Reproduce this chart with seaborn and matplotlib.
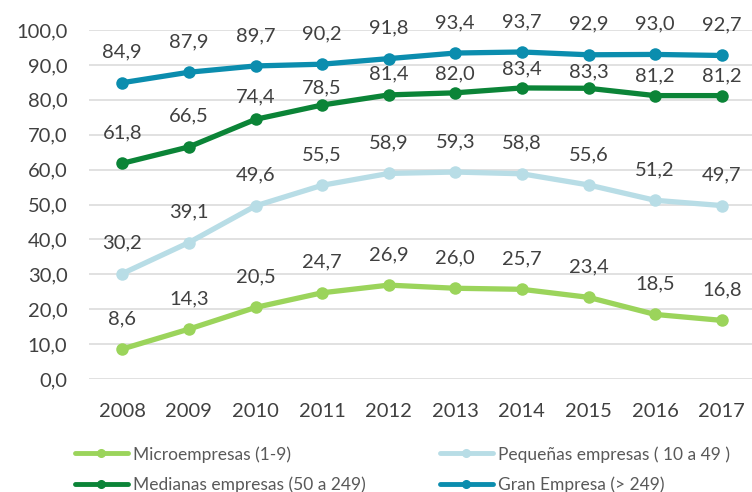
import matplotlib
matplotlib.use("Agg")
import matplotlib.pyplot as plt
import seaborn as sns
import pandas as pd
from matplotlib.lines import Line2D

years = [2008, 2009, 2010, 2011, 2012, 2013, 2014, 2015, 2016, 2017]
series_names = ["Microempresas (1-9)", "Medianas empresas (50 a 249)",
                "Pequeñas empresas ( 10 a 49 )", "Gran Empresa (> 249)"]
micro = [8.6, 14.3, 20.5, 24.7, 26.9, 26.0, 25.7, 23.4, 18.5, 16.8]
pequenas = [30.2, 39.1, 49.6, 55.5, 58.9, 59.3, 58.8, 55.6, 51.2, 49.7]
medianas = [61.8, 66.5, 74.4, 78.5, 81.4, 82.0, 83.4, 83.3, 81.2, 81.2]
gran = [84.9, 87.9, 89.7, 90.2, 91.8, 93.4, 93.7, 92.9, 93.0, 92.7]
yticks = [0, 10, 20, 30, 40, 50, 60, 70, 80, 90, 100]

colors = {
    "Microempresas (1-9)": "#9BD45B",
    "Pequeñas empresas ( 10 a 49 )": "#B8DDE6",
    "Medianas empresas (50 a 249)": "#0B8437",
    "Gran Empresa (> 249)": "#0B8DAE",
}
values = {
    "Microempresas (1-9)": micro,
    "Pequeñas empresas ( 10 a 49 )": pequenas,
    "Medianas empresas (50 a 249)": medianas,
    "Gran Empresa (> 249)": gran,
}
# label offsets (points above marker)
label_offsets = {
    "Microempresas (1-9)": [22] * 10,
    "Pequeñas empresas ( 10 a 49 )": [22] * 10,
    "Medianas empresas (50 a 249)": [22, 22, 16, 12, 15, 14, 14, 12, 14, 14],
    "Gran Empresa (> 249)": [22] * 10,
}

rows = []
for name in series_names:
    for i, v in enumerate(values[name]):
        rows.append({"x": i, "value": v, "serie": name})
df = pd.DataFrame(rows)

sns.set_style("white")
plt.rcParams["font.family"] = ["Lato", "DejaVu Sans"]
TXT = "#404040"

fig = plt.figure(figsize=(7.52, 4.92), dpi=100)
ax = fig.add_axes([89 / 752, 1 - 379 / 492, 666 / 752, 349 / 492])

draw_order = ["Microempresas (1-9)", "Pequeñas empresas ( 10 a 49 )",
              "Medianas empresas (50 a 249)", "Gran Empresa (> 249)"]
sns.lineplot(data=df, x="x", y="value", hue="serie", hue_order=draw_order,
             palette=colors, marker="o", markersize=9, markeredgewidth=0,
             linewidth=3.8, ax=ax, legend=False, zorder=3)

for name in draw_order:
    for i, v in enumerate(values[name]):
        ax.annotate(f"{v:.1f}".replace(".", ","), (i, v),
                    xytext=(0, label_offsets[name][i]), textcoords="offset points",
                    ha="center", va="center", fontsize=14.5, color=TXT, zorder=5)

ax.set_xlim(-0.5, 9.5)
ax.set_ylim(0, 100)
ax.set_yticks(yticks)
ax.set_yticklabels([f"{t:.1f}".replace(".", ",") for t in yticks])
ax.set_xticks(range(len(years)))
ax.set_xticklabels([str(y) for y in years])
ax.tick_params(axis="y", length=0, pad=15.5, labelsize=14.5, labelcolor=TXT)
ax.tick_params(axis="x", length=0, pad=17, labelsize=14.5, labelcolor=TXT)
ax.set_xlabel("")
ax.set_ylabel("")
ax.grid(axis="y", color="#D9D9D9", linewidth=1.1, zorder=0)
ax.set_axisbelow(True)
for s in ax.spines.values():
    s.set_visible(False)

def handle(c):
    return Line2D([0], [0], color=c, linewidth=3.5, marker="o", markersize=5.5)

leg_kw = dict(frameon=False, fontsize=12.5, handlelength=3.05, handletextpad=0.3,
              labelspacing=0.78, labelcolor="#595959", borderpad=0, borderaxespad=0)
l1 = fig.legend([handle(colors[n]) for n in ["Microempresas (1-9)", "Medianas empresas (50 a 249)"]],
                ["Microempresas (1-9)", "Medianas empresas (50 a 249)"],
                loc="upper left", bbox_to_anchor=(75 / 752, 1 - 446 / 492), **leg_kw)
l2 = fig.legend([handle(colors[n]) for n in ["Pequeñas empresas ( 10 a 49 )", "Gran Empresa (> 249)"]],
                ["Pequeñas empresas ( 10 a 49 )", "Gran Empresa (> 249)"],
                loc="upper left", bbox_to_anchor=(440 / 752, 1 - 446 / 492), **leg_kw)

fig.savefig("out.png", dpi=100)
